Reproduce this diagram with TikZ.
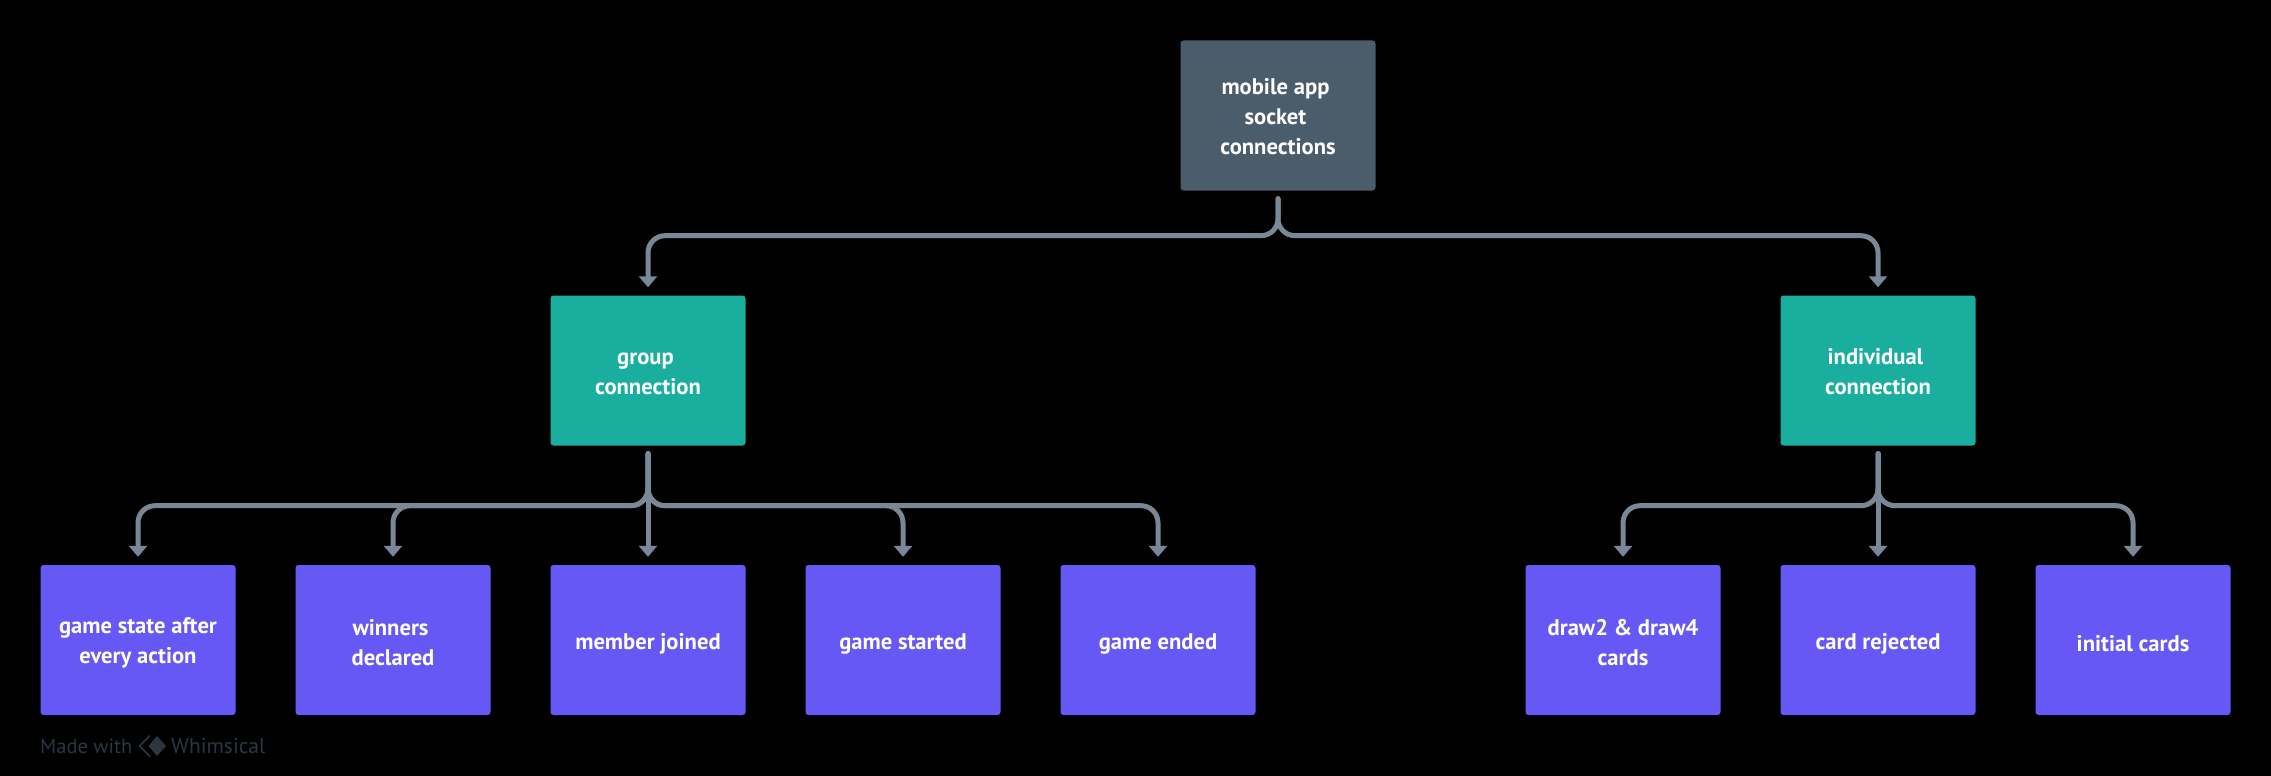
\documentclass[tikz,border=0pt]{standalone}
\usepackage{fontspec}
\setmainfont{PT Sans}
\usepackage{xcolor}
\usetikzlibrary{arrows.meta}
\definecolor{slatebox}{HTML}{4B5C6B}
\definecolor{tealbox}{HTML}{1AAE9F}
\definecolor{indigobox}{HTML}{6558F5}
\definecolor{linkgray}{HTML}{788896}
\definecolor{markgray}{HTML}{2B3641}
\newcommand{\trail}{\kern5pt}
\tikzset{
    lift/.style={execute at begin node={\rule{0pt}{#1pt}}},
    card/.style={minimum width=195pt, minimum height=150pt, rounded corners=3pt, inner sep=0pt,
        text=white, align=center, font=\fontsize{22.6}{30}\selectfont\bfseries, lift=23},
    rootcard/.style={card, fill=slatebox},
    groupcard/.style={card, fill=tealbox},
    leafcard/.style={card, fill=indigobox},
    link/.style={draw=linkgray, line width=5pt, line cap=round, rounded corners=17pt,
        -{Triangle[width=18pt,length=11pt]}, shorten <=8pt, shorten >=8pt},
    madewith/.style={text=markgray, font=\fontsize{20.5}{24}\selectfont, inner sep=0pt, anchor=west},
}
\begin{document}
\begin{tikzpicture}[x=1pt,y=-1pt]
    % Background
    \fill[black] (0,0) rectangle (2271,776);
    \useasboundingbox (0,0) rectangle (2271,776);

    % Top level
    \node[rootcard, lift=78] (root) at (1278,115.5) {mobile app\trail\\socket\trail\\connections};

    % Second level
    \node[groupcard, lift=49] (group) at (648,370.5) {group\trail\\connection};
    \node[groupcard, lift=49] (single) at (1878,370.5) {individual\trail\\connection};

    % Leaves of the group connection
    \node[leafcard, lift=52] (state) at (138,640) {game state after\\every action};
    \node[leafcard, lift=52] (winners) at (393,640) {winners\trail\\declared};
    \node[leafcard] (joined) at (648,640) {member joined};
    \node[leafcard] (started) at (903,640) {game started};
    \node[leafcard] (ended) at (1158,640) {game ended};

    % Leaves of the individual connection
    \node[leafcard, lift=52] (draws) at (1623,640) {draw2 \& draw4\\cards};
    \node[leafcard] (rejected) at (1878,640) {card rejected};
    \node[leafcard] (initial) at (2133,640) {initial cards};

    % Connectors
    \foreach \leaf in {group,single}
        \draw[link] (root.south) -- ++(0,45) -| (\leaf.north);
    \foreach \leaf in {state,winners,started,ended}
        \draw[link] (group.south) -- ++(0,60) -| (\leaf.north);
    \draw[link] (group.south) -- (joined.north);
    \foreach \leaf in {draws,initial}
        \draw[link] (single.south) -- ++(0,60) -| (\leaf.north);
    \draw[link] (single.south) -- (rejected.north);

    % Watermark
    \node[madewith] (made) at (40,746) {Made with};
    \node[madewith, font=\fontsize{21.5}{24}\selectfont] (whim) at (171,746) {Whimsical};
    \draw[markgray, line width=1.6pt, line join=round] (150,735.5) -- (139.5,746) -- (150,756.5);
    \fill[markgray] (157,736) -- (166,746) -- (157,756) -- (148.5,746) -- cycle;
\end{tikzpicture}
\end{document}
